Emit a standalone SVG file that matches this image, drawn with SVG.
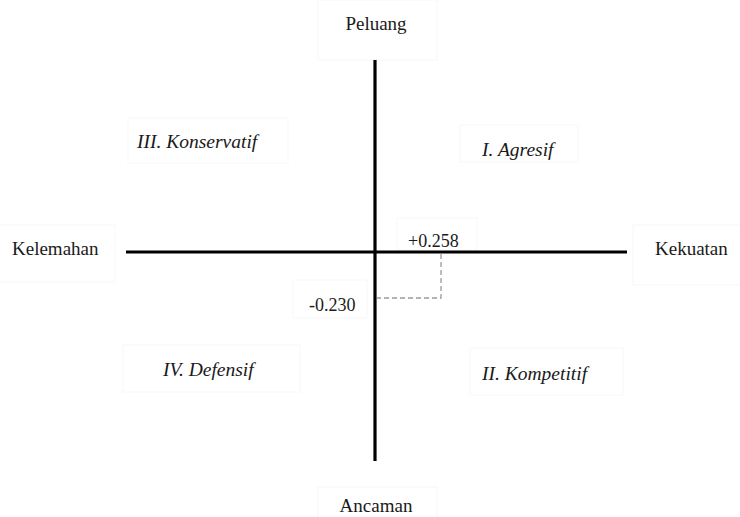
<svg xmlns="http://www.w3.org/2000/svg" width="740" height="517" viewBox="0 0 740 517">
<style>
.bx{fill:#ffffff;stroke:#f7f7f7;stroke-width:1}
.lb{font-family:"Liberation Serif","Times New Roman",serif;font-size:19px;fill:#1a1a1a}
.it{font-family:"Liberation Serif","Times New Roman",serif;font-size:19.5px;font-style:italic;fill:#1a1a1a}
.nm{font-family:"Liberation Serif","Times New Roman",serif;font-size:18px;fill:#1a1a1a}
.ax{stroke:#000;stroke-width:3.2;fill:none}
.ds{stroke:#9a9a9a;stroke-width:1.3;stroke-dasharray:5,3;fill:none}
</style>
<rect width="740" height="517" fill="#ffffff"/>
<g id="peluang"><rect class="bx" x="318" y="0" width="119" height="60"/><text class="lb" x="376" y="30" text-anchor="middle">Peluang</text></g>
<g id="ancaman"><rect class="bx" x="318" y="487" width="119" height="35"/><text class="lb" x="376" y="512" text-anchor="middle">Ancaman</text></g>
<g id="kelemahan"><rect class="bx" x="-1" y="225" width="116" height="57"/><text class="lb" x="12" y="255">Kelemahan</text></g>
<g id="kekuatan"><rect class="bx" x="633" y="225" width="110" height="60"/><text class="lb" x="655" y="255">Kekuatan</text></g>
<g id="q3"><rect class="bx" x="128" y="118" width="160" height="45"/><text class="it" x="137" y="148">III. Konservatif</text></g>
<g id="q1"><rect class="bx" x="460" y="125" width="118" height="37"/><text class="it" x="482" y="156">I. Agresif</text></g>
<g id="q4"><rect class="bx" x="123" y="345" width="177" height="47"/><text class="it" x="163" y="376">IV. Defensif</text></g>
<g id="q2"><rect class="bx" x="470" y="348" width="153" height="47"/><text class="it" x="482" y="380">II. Kompetitif</text></g>
<g id="v1"><rect class="bx" x="397" y="218" width="80" height="32"/><text class="nm" x="408" y="247">+0.258</text></g>
<g id="v2"><rect class="bx" x="293" y="280" width="74" height="38"/><text class="nm" x="309" y="311">-0.230</text></g>
<g id="connectors">
<line class="ax" x1="375" y1="60" x2="375" y2="461"/>
<line class="ax" x1="126" y1="252" x2="627" y2="252"/>
<polyline class="ds" points="441,254 441,298 377,298"/>
</g>
</svg>
